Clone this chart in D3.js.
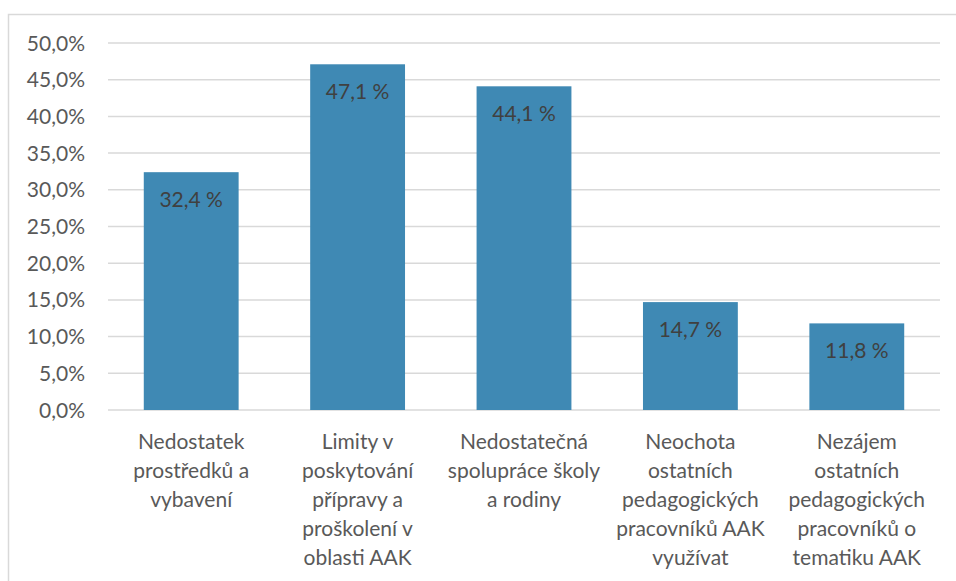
<!DOCTYPE html>
<html><head><meta charset="utf-8">
<script src="https://cdn.jsdelivr.net/npm/d3@7/dist/d3.min.js"></script>
<style>body{margin:0;background:#fff}svg{display:block}</style>
</head><body>
<svg id="c" width="956" height="581"></svg>
<script>
const categories = [
  ["Nedostatek", "prostředků a", "vybavení"],
  ["Limity v", "poskytování", "přípravy a", "proškolení v", "oblasti AAK"],
  ["Nedostatečná", "spolupráce školy", "a rodiny"],
  ["Neochota", "ostatních", "pedagogických", "pracovníků AAK", "využívat"],
  ["Nezájem", "ostatních", "pedagogických", "pracovníků o", "tematiku AAK"]
];
const values = [32.4, 47.1, 44.1, 14.7, 11.8];
const yTicks = [0, 5, 10, 15, 20, 25, 30, 35, 40, 45, 50];

const svg = d3.select("#c");
const font = "Lato, 'Open Sans', sans-serif";
// chart border
svg.append("path").attr("d", "M8.5,600 V14.5 H956").attr("fill", "none")
  .attr("stroke", "#d9d9d9").attr("stroke-width", 1.5);

const x = d3.scaleBand().domain(d3.range(categories.length)).range([108, 940]).paddingInner(0.43).paddingOuter(0.215);
const y = d3.scaleLinear().domain([0, 50]).range([410, 43]);

const fmt = v => v.toFixed(1).replace(".", ",");

svg.append("g").selectAll("line").data(yTicks).join("line")
  .attr("x1", 108).attr("x2", 940).attr("y1", d => y(d)).attr("y2", d => y(d))
  .attr("stroke", "#d9d9d9").attr("stroke-width", 1.5);

svg.append("g").selectAll("text").data(yTicks).join("text")
  .attr("x", 85).attr("y", d => y(d) + 7.5).attr("text-anchor", "end")
  .attr("font-family", font).attr("font-size", 21).attr("fill", "#595959")
  .text(d => fmt(d) + "%");

svg.append("g").selectAll("rect").data(values).join("rect")
  .attr("x", (d, i) => x(i)).attr("width", x.bandwidth())
  .attr("y", d => y(d)).attr("height", d => y(0) - y(d))
  .attr("fill", "#3f89b4");

svg.append("g").selectAll("text").data(values).join("text")
  .attr("x", (d, i) => x(i) + x.bandwidth() / 2).attr("y", d => y(d) + 35)
  .attr("text-anchor", "middle").attr("font-family", font).attr("font-size", 21)
  .attr("fill", "#404040").text(d => fmt(d) + " %");

const cg = svg.append("g").selectAll("text").data(categories).join("text")
  .attr("text-anchor", "middle").attr("font-family", font).attr("font-size", 21)
  .attr("fill", "#595959");
cg.each(function(lines, i) {
  d3.select(this).selectAll("tspan").data(lines).join("tspan")
    .attr("x", x(i) + x.bandwidth() / 2).attr("y", (d, j) => 449 + j * 29).text(d => d);
});
</script>
</body></html>
